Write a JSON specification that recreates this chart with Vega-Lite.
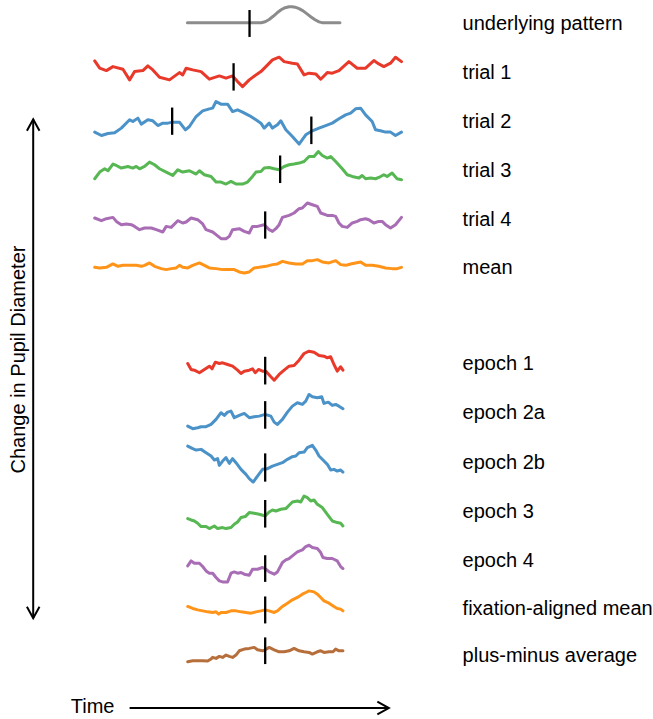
{
  "$schema": "https://vega.github.io/schema/vega-lite/v6.json",
  "width": 653,
  "height": 719,
  "autosize": {"type": "fit", "contains": "padding"},
  "padding": 0,
  "background": "white",
  "config": {"view": {"stroke": null}},
  "datasets": {
    "lines": [
      {"s":"pattern","t":188,"v":22.7},{"s":"pattern","t":262,"v":22.7},{"s":"pattern","t":266,"v":21.8},{"s":"pattern","t":270,"v":19.5},{"s":"pattern","t":274,"v":16.3},{"s":"pattern","t":278,"v":12.8},{"s":"pattern","t":282,"v":9.8},{"s":"pattern","t":286,"v":7.7},{"s":"pattern","t":290,"v":6.8},{"s":"pattern","t":293,"v":6.7},{"s":"pattern","t":296,"v":7.2},{"s":"pattern","t":300,"v":8.6},{"s":"pattern","t":304,"v":10.9},{"s":"pattern","t":308,"v":13.9},{"s":"pattern","t":312,"v":17.0},{"s":"pattern","t":316,"v":19.8},{"s":"pattern","t":320,"v":21.9},{"s":"pattern","t":323,"v":22.7},{"s":"pattern","t":341,"v":22.7},

      {"s":"trial 1","t":95,"v":61},{"s":"trial 1","t":100,"v":68.3},{"s":"trial 1","t":106.7,"v":70.7},{"s":"trial 1","t":113.3,"v":66.7},{"s":"trial 1","t":123.3,"v":69.3},{"s":"trial 1","t":130,"v":80},{"s":"trial 1","t":135,"v":71.7},{"s":"trial 1","t":143.3,"v":70.7},{"s":"trial 1","t":148.3,"v":66},{"s":"trial 1","t":153.3,"v":70},{"s":"trial 1","t":160,"v":77.3},{"s":"trial 1","t":170,"v":80},{"s":"trial 1","t":180,"v":72.7},{"s":"trial 1","t":183.3,"v":75},{"s":"trial 1","t":186.7,"v":68.3},{"s":"trial 1","t":193.3,"v":70},{"s":"trial 1","t":201.7,"v":71.7},{"s":"trial 1","t":210,"v":79.3},{"s":"trial 1","t":220,"v":76},{"s":"trial 1","t":226.7,"v":78.3},{"s":"trial 1","t":233.3,"v":76},{"s":"trial 1","t":238.3,"v":81.7},{"s":"trial 1","t":243.3,"v":86.7},{"s":"trial 1","t":250,"v":80},{"s":"trial 1","t":256.7,"v":75},{"s":"trial 1","t":261.7,"v":71.7},{"s":"trial 1","t":266.7,"v":66.7},{"s":"trial 1","t":273.3,"v":60},{"s":"trial 1","t":280,"v":57.3},{"s":"trial 1","t":285,"v":61.7},{"s":"trial 1","t":293.3,"v":63.3},{"s":"trial 1","t":298.3,"v":64},{"s":"trial 1","t":305,"v":75},{"s":"trial 1","t":310,"v":73.3},{"s":"trial 1","t":316.7,"v":74},{"s":"trial 1","t":321.7,"v":79.3},{"s":"trial 1","t":328.3,"v":72.7},{"s":"trial 1","t":333.3,"v":73.3},{"s":"trial 1","t":340,"v":70.7},{"s":"trial 1","t":350,"v":61.7},{"s":"trial 1","t":358.3,"v":68.3},{"s":"trial 1","t":366.7,"v":68.3},{"s":"trial 1","t":375,"v":60.7},{"s":"trial 1","t":380,"v":64},{"s":"trial 1","t":385,"v":66.7},{"s":"trial 1","t":391.7,"v":63.3},{"s":"trial 1","t":396.7,"v":57.3},{"s":"trial 1","t":402.7,"v":61.7},

      {"s":"trial 2","t":95,"v":132.3},{"s":"trial 2","t":101.7,"v":135.7},{"s":"trial 2","t":108.3,"v":133.7},{"s":"trial 2","t":115,"v":133},{"s":"trial 2","t":121.7,"v":128.3},{"s":"trial 2","t":128.3,"v":121.7},{"s":"trial 2","t":130,"v":120},{"s":"trial 2","t":133.3,"v":121.7},{"s":"trial 2","t":138.3,"v":118.3},{"s":"trial 2","t":141.7,"v":124.3},{"s":"trial 2","t":148.3,"v":120},{"s":"trial 2","t":153.3,"v":121},{"s":"trial 2","t":158.3,"v":125.7},{"s":"trial 2","t":163.3,"v":123.3},{"s":"trial 2","t":168.3,"v":123.3},{"s":"trial 2","t":173.3,"v":122.3},{"s":"trial 2","t":180,"v":122.3},{"s":"trial 2","t":186,"v":130},{"s":"trial 2","t":190,"v":126.7},{"s":"trial 2","t":196.7,"v":116.7},{"s":"trial 2","t":203.3,"v":111},{"s":"trial 2","t":210,"v":109},{"s":"trial 2","t":213.3,"v":108.3},{"s":"trial 2","t":216.7,"v":101.7},{"s":"trial 2","t":221.7,"v":104.3},{"s":"trial 2","t":228.3,"v":104.3},{"s":"trial 2","t":233.3,"v":111.7},{"s":"trial 2","t":238.3,"v":110},{"s":"trial 2","t":243.3,"v":112.3},{"s":"trial 2","t":250,"v":115.7},{"s":"trial 2","t":256.7,"v":120},{"s":"trial 2","t":261.7,"v":123.3},{"s":"trial 2","t":265,"v":128.3},{"s":"trial 2","t":270,"v":123.3},{"s":"trial 2","t":273.3,"v":128.3},{"s":"trial 2","t":278.3,"v":125},{"s":"trial 2","t":281.7,"v":121},{"s":"trial 2","t":286.7,"v":130},{"s":"trial 2","t":293.3,"v":136.7},{"s":"trial 2","t":300,"v":144.3},{"s":"trial 2","t":306.7,"v":135},{"s":"trial 2","t":313.3,"v":131},{"s":"trial 2","t":320,"v":128.3},{"s":"trial 2","t":326.7,"v":125.7},{"s":"trial 2","t":333.3,"v":123.3},{"s":"trial 2","t":340,"v":119},{"s":"trial 2","t":346.7,"v":115},{"s":"trial 2","t":351.7,"v":113.3},{"s":"trial 2","t":356.7,"v":109},{"s":"trial 2","t":361.7,"v":108.3},{"s":"trial 2","t":366.7,"v":115},{"s":"trial 2","t":373.3,"v":121.7},{"s":"trial 2","t":376.7,"v":130},{"s":"trial 2","t":381.7,"v":131},{"s":"trial 2","t":386.7,"v":132.3},{"s":"trial 2","t":391.7,"v":132.3},{"s":"trial 2","t":396.7,"v":135.7},{"s":"trial 2","t":402.7,"v":132.3},

      {"s":"trial 3","t":95,"v":179},{"s":"trial 3","t":100,"v":172.3},{"s":"trial 3","t":105,"v":169},{"s":"trial 3","t":108.3,"v":171},{"s":"trial 3","t":113.3,"v":164.3},{"s":"trial 3","t":116.7,"v":165.7},{"s":"trial 3","t":121.7,"v":168.3},{"s":"trial 3","t":128.3,"v":166.7},{"s":"trial 3","t":133.3,"v":168.3},{"s":"trial 3","t":136.7,"v":166.7},{"s":"trial 3","t":140,"v":169},{"s":"trial 3","t":145,"v":166.7},{"s":"trial 3","t":150,"v":162.3},{"s":"trial 3","t":155,"v":165},{"s":"trial 3","t":160,"v":169},{"s":"trial 3","t":166.7,"v":172.3},{"s":"trial 3","t":173.3,"v":175.7},{"s":"trial 3","t":178.3,"v":170},{"s":"trial 3","t":183.3,"v":172.3},{"s":"trial 3","t":190,"v":171},{"s":"trial 3","t":196.7,"v":174.3},{"s":"trial 3","t":200,"v":171},{"s":"trial 3","t":205,"v":175},{"s":"trial 3","t":211.7,"v":176.7},{"s":"trial 3","t":216.7,"v":182.3},{"s":"trial 3","t":221.7,"v":182.3},{"s":"trial 3","t":226.7,"v":184.3},{"s":"trial 3","t":231.7,"v":181.7},{"s":"trial 3","t":236.7,"v":184.3},{"s":"trial 3","t":243.3,"v":184.3},{"s":"trial 3","t":248.3,"v":182.3},{"s":"trial 3","t":253.3,"v":176.7},{"s":"trial 3","t":256.7,"v":172.3},{"s":"trial 3","t":261.7,"v":171.7},{"s":"trial 3","t":265,"v":168.3},{"s":"trial 3","t":270,"v":167.7},{"s":"trial 3","t":275,"v":169},{"s":"trial 3","t":280,"v":170},{"s":"trial 3","t":285,"v":166.7},{"s":"trial 3","t":290,"v":165},{"s":"trial 3","t":295,"v":164.3},{"s":"trial 3","t":300,"v":163.3},{"s":"trial 3","t":305,"v":161.7},{"s":"trial 3","t":310,"v":156.7},{"s":"trial 3","t":315,"v":156.7},{"s":"trial 3","t":319.3,"v":151.7},{"s":"trial 3","t":323.3,"v":155.7},{"s":"trial 3","t":328.3,"v":158.3},{"s":"trial 3","t":331.7,"v":156.7},{"s":"trial 3","t":336.7,"v":161.7},{"s":"trial 3","t":343.3,"v":169},{"s":"trial 3","t":348.3,"v":175},{"s":"trial 3","t":353.3,"v":176.7},{"s":"trial 3","t":360,"v":178.3},{"s":"trial 3","t":363.3,"v":175.7},{"s":"trial 3","t":366.7,"v":179},{"s":"trial 3","t":371.7,"v":178.3},{"s":"trial 3","t":376.7,"v":179},{"s":"trial 3","t":380,"v":177.7},{"s":"trial 3","t":385,"v":175},{"s":"trial 3","t":388.3,"v":176.7},{"s":"trial 3","t":393.3,"v":173.3},{"s":"trial 3","t":398.3,"v":179},{"s":"trial 3","t":402.7,"v":180},

      {"s":"trial 4","t":95,"v":218.3},{"s":"trial 4","t":101.7,"v":221},{"s":"trial 4","t":106.7,"v":219},{"s":"trial 4","t":113.3,"v":217.7},{"s":"trial 4","t":116.7,"v":221.7},{"s":"trial 4","t":121.7,"v":225},{"s":"trial 4","t":126.7,"v":224.3},{"s":"trial 4","t":131.7,"v":225},{"s":"trial 4","t":135,"v":226.7},{"s":"trial 4","t":140,"v":230},{"s":"trial 4","t":145,"v":228.3},{"s":"trial 4","t":151.7,"v":228.3},{"s":"trial 4","t":156.7,"v":230},{"s":"trial 4","t":163.3,"v":232.3},{"s":"trial 4","t":166.7,"v":226.7},{"s":"trial 4","t":171.7,"v":227.7},{"s":"trial 4","t":178.3,"v":221},{"s":"trial 4","t":183.3,"v":223.3},{"s":"trial 4","t":186.7,"v":222.3},{"s":"trial 4","t":191.7,"v":218.3},{"s":"trial 4","t":198.3,"v":220},{"s":"trial 4","t":203.3,"v":224.3},{"s":"trial 4","t":206.7,"v":230},{"s":"trial 4","t":213.3,"v":232.3},{"s":"trial 4","t":216.7,"v":235},{"s":"trial 4","t":221.7,"v":239},{"s":"trial 4","t":226.7,"v":239},{"s":"trial 4","t":230,"v":236.7},{"s":"trial 4","t":233.3,"v":230},{"s":"trial 4","t":240,"v":229},{"s":"trial 4","t":245,"v":231.7},{"s":"trial 4","t":250,"v":233.3},{"s":"trial 4","t":253.3,"v":226.7},{"s":"trial 4","t":258.3,"v":226.7},{"s":"trial 4","t":265,"v":225},{"s":"trial 4","t":270,"v":230},{"s":"trial 4","t":273.3,"v":231.7},{"s":"trial 4","t":276.7,"v":229},{"s":"trial 4","t":280,"v":225},{"s":"trial 4","t":283.3,"v":217.7},{"s":"trial 4","t":290,"v":215.7},{"s":"trial 4","t":295,"v":213.3},{"s":"trial 4","t":300,"v":209},{"s":"trial 4","t":303.3,"v":208.3},{"s":"trial 4","t":308.3,"v":203.3},{"s":"trial 4","t":313.3,"v":205},{"s":"trial 4","t":318.3,"v":206.7},{"s":"trial 4","t":321.7,"v":213.3},{"s":"trial 4","t":328.3,"v":215.7},{"s":"trial 4","t":333.3,"v":215.7},{"s":"trial 4","t":336.7,"v":216.7},{"s":"trial 4","t":340,"v":223.3},{"s":"trial 4","t":343.3,"v":226.7},{"s":"trial 4","t":348.3,"v":227.7},{"s":"trial 4","t":353.3,"v":223.3},{"s":"trial 4","t":358.3,"v":221.7},{"s":"trial 4","t":361.7,"v":220},{"s":"trial 4","t":366.7,"v":219},{"s":"trial 4","t":370,"v":220},{"s":"trial 4","t":375,"v":223.3},{"s":"trial 4","t":380,"v":221.7},{"s":"trial 4","t":383.3,"v":221.7},{"s":"trial 4","t":386.7,"v":225},{"s":"trial 4","t":391.7,"v":228.3},{"s":"trial 4","t":396.7,"v":225},{"s":"trial 4","t":402.7,"v":217.7},

      {"s":"mean","t":95,"v":267.7},{"s":"mean","t":100,"v":268.3},{"s":"mean","t":106.7,"v":267.7},{"s":"mean","t":113.3,"v":264.3},{"s":"mean","t":118.3,"v":266.7},{"s":"mean","t":123.3,"v":265.7},{"s":"mean","t":130,"v":265.7},{"s":"mean","t":136.7,"v":265.7},{"s":"mean","t":141.7,"v":266.7},{"s":"mean","t":145,"v":265.7},{"s":"mean","t":150,"v":263.3},{"s":"mean","t":155,"v":266.7},{"s":"mean","t":161.7,"v":269},{"s":"mean","t":166.7,"v":270},{"s":"mean","t":171.7,"v":269},{"s":"mean","t":176.7,"v":268.3},{"s":"mean","t":180,"v":265.7},{"s":"mean","t":183.3,"v":267.7},{"s":"mean","t":188.3,"v":268.3},{"s":"mean","t":193.3,"v":265.7},{"s":"mean","t":200,"v":263.3},{"s":"mean","t":205,"v":265.7},{"s":"mean","t":210,"v":268.3},{"s":"mean","t":216.7,"v":269},{"s":"mean","t":223.3,"v":270},{"s":"mean","t":230,"v":270},{"s":"mean","t":235,"v":270},{"s":"mean","t":240,"v":272.3},{"s":"mean","t":245,"v":273.3},{"s":"mean","t":250,"v":272.3},{"s":"mean","t":255,"v":268.3},{"s":"mean","t":260,"v":267.7},{"s":"mean","t":266.7,"v":266.7},{"s":"mean","t":273.3,"v":265},{"s":"mean","t":278.3,"v":264.3},{"s":"mean","t":283.3,"v":261.7},{"s":"mean","t":290,"v":263.3},{"s":"mean","t":296.7,"v":264.3},{"s":"mean","t":303.3,"v":264.3},{"s":"mean","t":308.3,"v":261},{"s":"mean","t":313.3,"v":261},{"s":"mean","t":318.3,"v":260},{"s":"mean","t":323.3,"v":262.3},{"s":"mean","t":330,"v":263.3},{"s":"mean","t":336.7,"v":261},{"s":"mean","t":341.7,"v":265},{"s":"mean","t":346.7,"v":265.7},{"s":"mean","t":351.7,"v":264.3},{"s":"mean","t":356.7,"v":263.3},{"s":"mean","t":361.7,"v":262.3},{"s":"mean","t":366.7,"v":265.7},{"s":"mean","t":373.3,"v":265.7},{"s":"mean","t":380,"v":266.7},{"s":"mean","t":386.7,"v":268.3},{"s":"mean","t":393.3,"v":269},{"s":"mean","t":398.3,"v":269},{"s":"mean","t":402.7,"v":267.7},

      {"s":"epoch 1","t":188.3,"v":364},{"s":"epoch 1","t":191.7,"v":370},{"s":"epoch 1","t":195,"v":370.7},{"s":"epoch 1","t":200,"v":373.3},{"s":"epoch 1","t":205,"v":370},{"s":"epoch 1","t":210,"v":366.7},{"s":"epoch 1","t":212.7,"v":369.3},{"s":"epoch 1","t":216,"v":362.7},{"s":"epoch 1","t":220,"v":364},{"s":"epoch 1","t":223.3,"v":363.3},{"s":"epoch 1","t":228.3,"v":365},{"s":"epoch 1","t":233.3,"v":366.7},{"s":"epoch 1","t":238.3,"v":370.7},{"s":"epoch 1","t":241.7,"v":374},{"s":"epoch 1","t":245,"v":371.7},{"s":"epoch 1","t":250,"v":370.7},{"s":"epoch 1","t":253.3,"v":369.3},{"s":"epoch 1","t":256,"v":373.3},{"s":"epoch 1","t":259.3,"v":370},{"s":"epoch 1","t":263.3,"v":371.7},{"s":"epoch 1","t":266.7,"v":371.7},{"s":"epoch 1","t":271.7,"v":377.3},{"s":"epoch 1","t":275,"v":380.7},{"s":"epoch 1","t":280,"v":375},{"s":"epoch 1","t":285,"v":370.7},{"s":"epoch 1","t":290,"v":366.7},{"s":"epoch 1","t":295,"v":366},{"s":"epoch 1","t":300,"v":360.7},{"s":"epoch 1","t":305,"v":354},{"s":"epoch 1","t":310,"v":351.7},{"s":"epoch 1","t":315,"v":352.7},{"s":"epoch 1","t":320,"v":356},{"s":"epoch 1","t":325,"v":356.7},{"s":"epoch 1","t":328.3,"v":358.3},{"s":"epoch 1","t":331.7,"v":357.3},{"s":"epoch 1","t":335,"v":365},{"s":"epoch 1","t":338.3,"v":371.7},{"s":"epoch 1","t":341.7,"v":367.3},{"s":"epoch 1","t":344,"v":370.7},

      {"s":"epoch 2a","t":188.3,"v":426.7},{"s":"epoch 2a","t":193.3,"v":429.3},{"s":"epoch 2a","t":198.3,"v":428.3},{"s":"epoch 2a","t":201.7,"v":427.3},{"s":"epoch 2a","t":206.7,"v":427.3},{"s":"epoch 2a","t":211.7,"v":425},{"s":"epoch 2a","t":216.7,"v":420},{"s":"epoch 2a","t":221.7,"v":413.3},{"s":"epoch 2a","t":225,"v":416},{"s":"epoch 2a","t":228.3,"v":412.7},{"s":"epoch 2a","t":231.7,"v":411.7},{"s":"epoch 2a","t":235,"v":418.3},{"s":"epoch 2a","t":240,"v":416},{"s":"epoch 2a","t":245,"v":414},{"s":"epoch 2a","t":250,"v":418.3},{"s":"epoch 2a","t":255,"v":417.3},{"s":"epoch 2a","t":260,"v":416.7},{"s":"epoch 2a","t":266,"v":415},{"s":"epoch 2a","t":271.7,"v":416.7},{"s":"epoch 2a","t":275,"v":422.7},{"s":"epoch 2a","t":278.3,"v":425},{"s":"epoch 2a","t":283.3,"v":420},{"s":"epoch 2a","t":288.3,"v":412.7},{"s":"epoch 2a","t":293.3,"v":406.7},{"s":"epoch 2a","t":298.3,"v":403.3},{"s":"epoch 2a","t":303.3,"v":405},{"s":"epoch 2a","t":306.7,"v":401.7},{"s":"epoch 2a","t":310,"v":395},{"s":"epoch 2a","t":313.3,"v":397.3},{"s":"epoch 2a","t":318.3,"v":398.3},{"s":"epoch 2a","t":322.7,"v":397.3},{"s":"epoch 2a","t":325,"v":404},{"s":"epoch 2a","t":329.3,"v":402.7},{"s":"epoch 2a","t":333.3,"v":406},{"s":"epoch 2a","t":336.7,"v":405},{"s":"epoch 2a","t":340,"v":406.7},{"s":"epoch 2a","t":344,"v":409.3},

      {"s":"epoch 2b","t":188.3,"v":446.7},{"s":"epoch 2b","t":193.3,"v":449.3},{"s":"epoch 2b","t":196.7,"v":450.7},{"s":"epoch 2b","t":201.7,"v":450},{"s":"epoch 2b","t":206.7,"v":453.3},{"s":"epoch 2b","t":211.7,"v":456.7},{"s":"epoch 2b","t":215,"v":460.7},{"s":"epoch 2b","t":218.3,"v":459.3},{"s":"epoch 2b","t":220,"v":466},{"s":"epoch 2b","t":223.3,"v":461.7},{"s":"epoch 2b","t":226.7,"v":458.3},{"s":"epoch 2b","t":230,"v":464},{"s":"epoch 2b","t":233.3,"v":459.3},{"s":"epoch 2b","t":236.7,"v":463.3},{"s":"epoch 2b","t":241.7,"v":470},{"s":"epoch 2b","t":246.7,"v":475},{"s":"epoch 2b","t":250,"v":479.3},{"s":"epoch 2b","t":254,"v":482.7},{"s":"epoch 2b","t":258.3,"v":476.7},{"s":"epoch 2b","t":263.3,"v":470},{"s":"epoch 2b","t":268.3,"v":469.3},{"s":"epoch 2b","t":273.3,"v":466.7},{"s":"epoch 2b","t":278.3,"v":465},{"s":"epoch 2b","t":283.3,"v":463.3},{"s":"epoch 2b","t":288.3,"v":460},{"s":"epoch 2b","t":293.3,"v":457.3},{"s":"epoch 2b","t":296.7,"v":456.7},{"s":"epoch 2b","t":300,"v":453.3},{"s":"epoch 2b","t":305,"v":452.7},{"s":"epoch 2b","t":308.3,"v":448.3},{"s":"epoch 2b","t":313.3,"v":446},{"s":"epoch 2b","t":316.7,"v":450.7},{"s":"epoch 2b","t":320,"v":456.7},{"s":"epoch 2b","t":325,"v":461.7},{"s":"epoch 2b","t":328.3,"v":465},{"s":"epoch 2b","t":331.7,"v":470.7},{"s":"epoch 2b","t":335,"v":470},{"s":"epoch 2b","t":338.3,"v":471.7},{"s":"epoch 2b","t":341.7,"v":470.7},{"s":"epoch 2b","t":344,"v":472.7},

      {"s":"epoch 3","t":188.3,"v":519.3},{"s":"epoch 3","t":191.7,"v":520.7},{"s":"epoch 3","t":195,"v":521.7},{"s":"epoch 3","t":198.3,"v":524},{"s":"epoch 3","t":201.7,"v":527.3},{"s":"epoch 3","t":206.7,"v":527.3},{"s":"epoch 3","t":210,"v":529.3},{"s":"epoch 3","t":215,"v":526.7},{"s":"epoch 3","t":218.3,"v":529.3},{"s":"epoch 3","t":223.3,"v":528.3},{"s":"epoch 3","t":226.7,"v":529.3},{"s":"epoch 3","t":231.7,"v":528.3},{"s":"epoch 3","t":235,"v":525},{"s":"epoch 3","t":238.3,"v":522.7},{"s":"epoch 3","t":241.7,"v":518.3},{"s":"epoch 3","t":246,"v":517.3},{"s":"epoch 3","t":250,"v":513.3},{"s":"epoch 3","t":255,"v":514},{"s":"epoch 3","t":260,"v":515},{"s":"epoch 3","t":266,"v":516.7},{"s":"epoch 3","t":270,"v":512.7},{"s":"epoch 3","t":273.3,"v":510.7},{"s":"epoch 3","t":276.7,"v":511.7},{"s":"epoch 3","t":281.7,"v":510},{"s":"epoch 3","t":286.7,"v":509.3},{"s":"epoch 3","t":290,"v":506},{"s":"epoch 3","t":293.3,"v":502.7},{"s":"epoch 3","t":298.3,"v":501.7},{"s":"epoch 3","t":301.7,"v":502.7},{"s":"epoch 3","t":305,"v":496.7},{"s":"epoch 3","t":308.3,"v":498.3},{"s":"epoch 3","t":311.7,"v":501.7},{"s":"epoch 3","t":315,"v":500.7},{"s":"epoch 3","t":318.3,"v":505},{"s":"epoch 3","t":323.3,"v":508.3},{"s":"epoch 3","t":328.3,"v":515},{"s":"epoch 3","t":333.3,"v":521.7},{"s":"epoch 3","t":338.3,"v":523.3},{"s":"epoch 3","t":341.7,"v":524},{"s":"epoch 3","t":344,"v":526.7},

      {"s":"epoch 4","t":188.3,"v":566.7},{"s":"epoch 4","t":191.7,"v":561.7},{"s":"epoch 4","t":195,"v":564},{"s":"epoch 4","t":200,"v":564},{"s":"epoch 4","t":203.3,"v":567.3},{"s":"epoch 4","t":206.7,"v":571.7},{"s":"epoch 4","t":210,"v":574},{"s":"epoch 4","t":213.3,"v":574},{"s":"epoch 4","t":216.7,"v":578.3},{"s":"epoch 4","t":220,"v":581.7},{"s":"epoch 4","t":223.3,"v":582.7},{"s":"epoch 4","t":228.3,"v":582.7},{"s":"epoch 4","t":231.7,"v":574},{"s":"epoch 4","t":235,"v":572.7},{"s":"epoch 4","t":238.3,"v":574},{"s":"epoch 4","t":241.7,"v":573.3},{"s":"epoch 4","t":245,"v":575},{"s":"epoch 4","t":250,"v":576},{"s":"epoch 4","t":253.3,"v":570},{"s":"epoch 4","t":258.3,"v":570},{"s":"epoch 4","t":263.3,"v":568.3},{"s":"epoch 4","t":266.7,"v":570},{"s":"epoch 4","t":270,"v":572.7},{"s":"epoch 4","t":275,"v":575},{"s":"epoch 4","t":278.3,"v":572.7},{"s":"epoch 4","t":283.3,"v":563.3},{"s":"epoch 4","t":286.7,"v":560.7},{"s":"epoch 4","t":290,"v":559.3},{"s":"epoch 4","t":293.3,"v":556.7},{"s":"epoch 4","t":298.3,"v":552.7},{"s":"epoch 4","t":303.3,"v":550.7},{"s":"epoch 4","t":306.7,"v":547.3},{"s":"epoch 4","t":310,"v":546},{"s":"epoch 4","t":313.3,"v":548.3},{"s":"epoch 4","t":318.3,"v":549.3},{"s":"epoch 4","t":321.7,"v":553.3},{"s":"epoch 4","t":324,"v":558.3},{"s":"epoch 4","t":328.3,"v":559.3},{"s":"epoch 4","t":333.3,"v":559.3},{"s":"epoch 4","t":338.3,"v":561.7},{"s":"epoch 4","t":341.7,"v":567.3},{"s":"epoch 4","t":344,"v":569.3},

      {"s":"fixation-aligned mean","t":188.3,"v":607.3},{"s":"fixation-aligned mean","t":193.3,"v":609.3},{"s":"fixation-aligned mean","t":198.3,"v":610.7},{"s":"fixation-aligned mean","t":203.3,"v":611.7},{"s":"fixation-aligned mean","t":208.3,"v":612.7},{"s":"fixation-aligned mean","t":213.3,"v":613.3},{"s":"fixation-aligned mean","t":216.7,"v":612.7},{"s":"fixation-aligned mean","t":219.3,"v":615},{"s":"fixation-aligned mean","t":221.7,"v":613.3},{"s":"fixation-aligned mean","t":226.7,"v":613.3},{"s":"fixation-aligned mean","t":231.7,"v":611.7},{"s":"fixation-aligned mean","t":236.7,"v":611.7},{"s":"fixation-aligned mean","t":241.7,"v":612.7},{"s":"fixation-aligned mean","t":246.7,"v":613.3},{"s":"fixation-aligned mean","t":251.7,"v":614},{"s":"fixation-aligned mean","t":256.7,"v":612.7},{"s":"fixation-aligned mean","t":261.7,"v":611.7},{"s":"fixation-aligned mean","t":266,"v":610.7},{"s":"fixation-aligned mean","t":270,"v":611.7},{"s":"fixation-aligned mean","t":275,"v":613.3},{"s":"fixation-aligned mean","t":278.3,"v":611.7},{"s":"fixation-aligned mean","t":283.3,"v":607.3},{"s":"fixation-aligned mean","t":288.3,"v":604},{"s":"fixation-aligned mean","t":293.3,"v":600.7},{"s":"fixation-aligned mean","t":298.3,"v":598.3},{"s":"fixation-aligned mean","t":303.3,"v":595},{"s":"fixation-aligned mean","t":306.7,"v":593.3},{"s":"fixation-aligned mean","t":310,"v":591.7},{"s":"fixation-aligned mean","t":315,"v":592.7},{"s":"fixation-aligned mean","t":318.3,"v":595},{"s":"fixation-aligned mean","t":321.7,"v":598.3},{"s":"fixation-aligned mean","t":325,"v":601.7},{"s":"fixation-aligned mean","t":330,"v":604},{"s":"fixation-aligned mean","t":335,"v":607.3},{"s":"fixation-aligned mean","t":338.3,"v":609.3},{"s":"fixation-aligned mean","t":341.7,"v":610},{"s":"fixation-aligned mean","t":344,"v":611.7},

      {"s":"plus-minus average","t":188.3,"v":662.7},{"s":"plus-minus average","t":193.3,"v":661.7},{"s":"plus-minus average","t":198.3,"v":661.7},{"s":"plus-minus average","t":203.3,"v":661.7},{"s":"plus-minus average","t":208.3,"v":662},{"s":"plus-minus average","t":211.7,"v":660},{"s":"plus-minus average","t":213.3,"v":658.3},{"s":"plus-minus average","t":216.7,"v":659.3},{"s":"plus-minus average","t":220,"v":657.3},{"s":"plus-minus average","t":223.3,"v":658.3},{"s":"plus-minus average","t":226.7,"v":656},{"s":"plus-minus average","t":230,"v":657.3},{"s":"plus-minus average","t":233.3,"v":658.3},{"s":"plus-minus average","t":236.7,"v":656},{"s":"plus-minus average","t":240,"v":651.7},{"s":"plus-minus average","t":245,"v":650},{"s":"plus-minus average","t":250,"v":649.3},{"s":"plus-minus average","t":255,"v":648.3},{"s":"plus-minus average","t":258.3,"v":650.7},{"s":"plus-minus average","t":263.3,"v":651.7},{"s":"plus-minus average","t":266,"v":650.7},{"s":"plus-minus average","t":270,"v":648.3},{"s":"plus-minus average","t":275,"v":650.7},{"s":"plus-minus average","t":280,"v":652.7},{"s":"plus-minus average","t":285,"v":652.7},{"s":"plus-minus average","t":290,"v":651.7},{"s":"plus-minus average","t":295,"v":649.3},{"s":"plus-minus average","t":300,"v":651.7},{"s":"plus-minus average","t":305,"v":652.7},{"s":"plus-minus average","t":310,"v":653.3},{"s":"plus-minus average","t":313.3,"v":655},{"s":"plus-minus average","t":318.3,"v":652.7},{"s":"plus-minus average","t":321.7,"v":651.7},{"s":"plus-minus average","t":325,"v":653.3},{"s":"plus-minus average","t":330,"v":652.7},{"s":"plus-minus average","t":334,"v":652.7},{"s":"plus-minus average","t":336.7,"v":650},{"s":"plus-minus average","t":340,"v":651.7},{"s":"plus-minus average","t":344,"v":651.7}
    ],
    "markers": [
      {"s":"pattern","t":250.3,"v1":10,"v2":37},
      {"s":"trial 1","t":234.3,"v1":63.3,"v2":90.7},
      {"s":"trial 2","t":172.7,"v1":107.7,"v2":135},
      {"s":"trial 2","t":312.3,"v1":116.7,"v2":144.3},
      {"s":"trial 3","t":281,"v1":155.7,"v2":183.3},
      {"s":"trial 4","t":266,"v1":211.7,"v2":239},
      {"s":"epoch 1","t":266,"v1":357.3,"v2":385},
      {"s":"epoch 2a","t":266,"v1":401.7,"v2":429.3},
      {"s":"epoch 2b","t":266,"v1":454,"v2":482.3},
      {"s":"epoch 3","t":266,"v1":500.7,"v2":528.3},
      {"s":"epoch 4","t":266,"v1":556,"v2":582.7},
      {"s":"fixation-aligned mean","t":266,"v1":597.3,"v2":624.3},
      {"s":"plus-minus average","t":266,"v1":638.3,"v2":665}
    ],
    "labels": [
      {"label":"underlying pattern","t":464,"v":30},
      {"label":"trial 1","t":464,"v":79},
      {"label":"trial 2","t":464,"v":128},
      {"label":"trial 3","t":464,"v":177},
      {"label":"trial 4","t":464,"v":226},
      {"label":"mean","t":464,"v":274},
      {"label":"epoch 1","t":464,"v":371},
      {"label":"epoch 2a","t":464,"v":420},
      {"label":"epoch 2b","t":464,"v":470},
      {"label":"epoch 3","t":464,"v":519},
      {"label":"epoch 4","t":464,"v":568},
      {"label":"fixation-aligned mean","t":464,"v":616},
      {"label":"plus-minus average","t":464,"v":663},
      {"label":"Time","t":71,"v":714}
    ],
    "shafts": [
      {"t":33.3,"v":119.5,"t2":33.3,"v2":619},
      {"t":130,"v":709,"t2":390,"v2":709}
    ],
    "heads": [
      {"part":"up","k":0,"t":27,"v":131},{"part":"up","k":1,"t":33.3,"v":119.5},{"part":"up","k":2,"t":39.6,"v":131},
      {"part":"down","k":0,"t":27,"v":607.5},{"part":"down","k":1,"t":33.3,"v":619},{"part":"down","k":2,"t":39.6,"v":607.5},
      {"part":"right","k":0,"t":378.5,"v":702.7},{"part":"right","k":1,"t":390,"v":709},{"part":"right","k":2,"t":378.5,"v":715.3}
    ],
    "ylabel": [{"label":"Change in Pupil Diameter","t":25,"v":360}]
  },
  "layer": [
    {
      "data": {"name": "lines"},
      "mark": {"type": "line", "strokeWidth": 3, "strokeCap": "round", "strokeJoin": "round"},
      "encoding": {
        "x": {"field": "t", "type": "quantitative", "scale": {"domain": [0, 653], "nice": false, "zero": false}, "axis": null},
        "y": {"field": "v", "type": "quantitative", "scale": {"domain": [0, 719], "nice": false, "zero": false, "reverse": true}, "axis": null},
        "color": {
          "field": "s", "type": "nominal", "legend": null,
          "scale": {
            "domain": ["pattern","trial 1","trial 2","trial 3","trial 4","mean","epoch 1","epoch 2a","epoch 2b","epoch 3","epoch 4","fixation-aligned mean","plus-minus average"],
            "range": ["#8c8c8c","#e8392a","#4a92c8","#57b752","#a86db4","#ff9419","#e8392a","#4a92c8","#4a92c8","#57b752","#a86db4","#ff9419","#b66e3b"]
          }
        },
        "order": {"field": "t", "type": "quantitative"}
      }
    },
    {
      "data": {"name": "markers"},
      "mark": {"type": "rule", "color": "black", "strokeWidth": 2.3},
      "encoding": {
        "x": {"field": "t", "type": "quantitative"},
        "y": {"field": "v1", "type": "quantitative"},
        "y2": {"field": "v2"}
      }
    },
    {
      "data": {"name": "shafts"},
      "mark": {"type": "rule", "color": "black", "strokeWidth": 2},
      "encoding": {
        "x": {"field": "t", "type": "quantitative"},
        "y": {"field": "v", "type": "quantitative"},
        "x2": {"field": "t2"},
        "y2": {"field": "v2"}
      }
    },
    {
      "data": {"name": "heads"},
      "mark": {"type": "line", "color": "black", "strokeWidth": 2, "strokeJoin": "miter"},
      "encoding": {
        "x": {"field": "t", "type": "quantitative"},
        "y": {"field": "v", "type": "quantitative"},
        "detail": {"field": "part", "type": "nominal"},
        "order": {"field": "k", "type": "quantitative"}
      }
    },
    {
      "data": {"name": "labels"},
      "mark": {"type": "text", "align": "left", "baseline": "alphabetic", "font": "Liberation Sans", "fontSize": 20, "color": "black"},
      "encoding": {
        "x": {"field": "t", "type": "quantitative"},
        "y": {"field": "v", "type": "quantitative"},
        "text": {"field": "label"}
      }
    },
    {
      "data": {"name": "ylabel"},
      "mark": {"type": "text", "align": "center", "baseline": "alphabetic", "angle": 270, "font": "Liberation Sans", "fontSize": 20, "color": "black"},
      "encoding": {
        "x": {"field": "t", "type": "quantitative"},
        "y": {"field": "v", "type": "quantitative"},
        "text": {"field": "label"}
      }
    }
  ]
}
